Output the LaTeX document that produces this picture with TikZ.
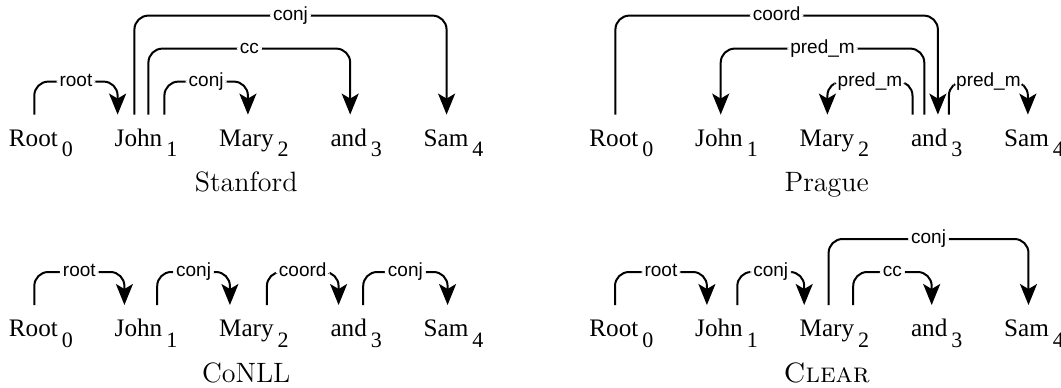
\documentclass[tikz,border=0pt]{standalone}
\usepackage{fontspec}
\newfontfamily\wordfont{Liberation Serif}
\newfontfamily\labelfont{Liberation Sans}
\usetikzlibrary{arrows.meta,positioning,calc}

% token index set below the word
\newcommand{\idx}[1]{\hspace{2pt}\raisebox{-5.3pt}{\fontsize{11}{11}\selectfont #1}}
% one sentence: #1 name prefix, #2 base west of the first token
\newcommand{\sentence}[2]{%
  \node[word, anchor=base west] (#10) at (#2) {Root\idx{0}};
  \node[word, right=of #10] (#11) {John\idx{1}};
  \node[word, right=of #11] (#12) {Mary\idx{2}};
  \node[word, right=of #12] (#13) {and\idx{3}};
  \node[word, right=of #13] (#14) {Sam\idx{4}};}

\begin{document}
\begin{tikzpicture}[
  word/.style={font=\wordfont\fontsize{12.6}{14}\selectfont, inner sep=0pt, text height=15.5pt, text depth=6pt},
  lab/.style={font=\labelfont\fontsize{9.5}{10}\selectfont, fill=white, inner xsep=1.5pt, inner ysep=0.6pt, text height=6.6pt, text depth=1.8pt},
  dep/.style={-{Stealth[length=10.5pt, width=8.5pt, inset=2.5pt]}, line width=1pt, rounded corners=7pt},
  title/.style={font=\fontsize{14}{16}\selectfont, anchor=base, inner sep=0pt},
  node distance=20.5pt
]
\useasboundingbox (0,0) rectangle (530.5pt,193.5pt);

\sentence{st}{4.25pt,120.5pt}
\sentence{pr}{294.5pt,120.5pt}
\sentence{co}{4.25pt,25.3pt}
\sentence{cl}{294.5pt,25.3pt}

\node[title] (sttitle) at ($(st0.base west)!.5!(st4.base east)+(0,-22.8pt)$) {Stanford};
\node[title] (prtitle) at ($(pr0.base west)!.5!(pr4.base east)+(0,-22.8pt)$) {Prague};
\node[title] (cotitle) at ($(co0.base west)!.5!(co4.base east)+(0,-22.8pt)$) {CoNLL};
\node[title] (cltitle) at ($(cl0.base west)!.5!(cl4.base east)+(0,-22.8pt)$) {\textsc{Clear}};

% Stanford
\draw[dep] ([xshift=-3.3pt]st0.north) -- ++(0,16.5pt) -| node[lab, pos=.25] {root} ([xshift=-14.2pt]st1.north);
\draw[dep] ([xshift=9.2pt]st1.north) -- ++(0,16.5pt) -| node[lab, pos=.25] {conj} ([xshift=-3pt]st2.north);
\draw[dep] ([xshift=1.2pt]st1.north) -- ++(0,33pt) -| node[lab, pos=.25] {cc} ([xshift=-3pt]st3.north);
\draw[dep] ([xshift=-5.8pt]st1.north) -- ++(0,49.5pt) -| node[lab, pos=.25] {conj} ([xshift=-3.5pt]st4.north);

% Prague
\draw[dep] ([xshift=-3pt]pr0.north) -- ++(0,49.5pt) -| node[lab, pos=.25] {coord} ([xshift=0.6pt]pr3.north);
\draw[dep] ([xshift=-6.2pt]pr3.north) -- ++(0,33pt) -| node[lab, pos=.25] {pred\_m} ([xshift=-2.9pt]pr1.north);
\draw[dep] ([xshift=-12.1pt]pr3.north) -- ++(0,16.5pt) -| node[lab, pos=.25] {pred\_m} ([xshift=-3.5pt]pr2.north);
\draw[dep] ([xshift=6.1pt]pr3.north) -- ++(0,16.5pt) -| node[lab, pos=.25] {pred\_m} ([xshift=-3.1pt]pr4.north);

% CoNLL
\draw[dep] ([xshift=-3.3pt]co0.north) -- ++(0,16.5pt) -| node[lab, pos=.25] {root} ([xshift=-10.8pt]co1.north);
\draw[dep] ([xshift=5.6pt]co1.north) -- ++(0,16.5pt) -| node[lab, pos=.25] {conj} ([xshift=-12pt]co2.north);
\draw[dep] ([xshift=6.5pt]co2.north) -- ++(0,16.5pt) -| node[lab, pos=.25] {coord} ([xshift=-8.8pt]co3.north);
\draw[dep] ([xshift=3.5pt]co3.north) -- ++(0,16.5pt) -| node[lab, pos=.25] {conj} ([xshift=-3pt]co4.north);

% Clear
\draw[dep] ([xshift=-3.2pt]cl0.north) -- ++(0,16.5pt) -| node[lab, pos=.25] {root} ([xshift=-9.8pt]cl1.north);
\draw[dep] ([xshift=5.4pt]cl1.north) -- ++(0,16.5pt) -| node[lab, pos=.25] {conj} ([xshift=-15.1pt]cl2.north);
\draw[dep] ([xshift=-2.9pt]cl2.north) -- ++(0,33pt) -| node[lab, pos=.25] {conj} ([xshift=-2.8pt]cl4.north);
\draw[dep] ([xshift=9.4pt]cl2.north) -- ++(0,16.5pt) -| node[lab, pos=.25] {cc} ([xshift=-2.5pt]cl3.north);
\end{tikzpicture}
\end{document}
